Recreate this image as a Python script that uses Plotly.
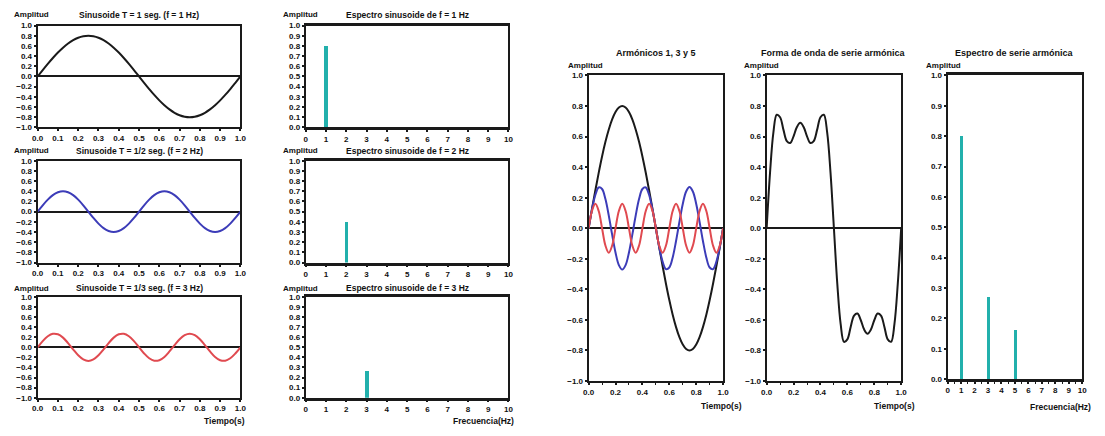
import plotly.graph_objects as go

W, H = 1105, 436

# Sample times (s) shared by every waveform
t = [0.0, 0.025, 0.05, 0.075, 0.1, 0.125, 0.15, 0.175, 0.2, 0.225,
     0.25, 0.275, 0.3, 0.325, 0.35, 0.375, 0.4, 0.425, 0.45, 0.475,
     0.5, 0.525, 0.55, 0.575, 0.6, 0.625, 0.65, 0.675, 0.7, 0.725,
     0.75, 0.775, 0.8, 0.825, 0.85, 0.875, 0.9, 0.925, 0.95, 0.975, 1.0]

# Sinusoid f = 1 Hz (amplitude 0.8)
wave_1hz = [0, 0.125, 0.247, 0.363, 0.470, 0.566, 0.647, 0.713, 0.761, 0.790,
            0.800, 0.790, 0.761, 0.713, 0.647, 0.566, 0.470, 0.363, 0.247, 0.125,
            0, -0.125, -0.247, -0.363, -0.470, -0.566, -0.647, -0.713, -0.761, -0.790,
            -0.800, -0.790, -0.761, -0.713, -0.647, -0.566, -0.470, -0.363, -0.247, -0.125, 0]

# Sinusoid f = 2 Hz (amplitude 0.4)
wave_2hz = [0, 0.124, 0.235, 0.324, 0.380, 0.400, 0.380, 0.324, 0.235, 0.124,
            0, -0.124, -0.235, -0.324, -0.380, -0.400, -0.380, -0.324, -0.235, -0.124,
            0, 0.124, 0.235, 0.324, 0.380, 0.400, 0.380, 0.324, 0.235, 0.124,
            0, -0.124, -0.235, -0.324, -0.380, -0.400, -0.380, -0.324, -0.235, -0.124, 0]

# Sinusoid f = 3 Hz (amplitude 0.27)
wave_3hz = [0, 0.123, 0.218, 0.267, 0.257, 0.191, 0.083, -0.042, -0.159, -0.241,
            -0.270, -0.241, -0.159, -0.042, 0.083, 0.191, 0.257, 0.267, 0.218, 0.123,
            0, -0.123, -0.218, -0.267, -0.257, -0.191, -0.083, 0.042, 0.159, 0.241,
            0.270, 0.241, 0.159, 0.042, -0.083, -0.191, -0.257, -0.267, -0.218, -0.123, 0]

# Sinusoid f = 5 Hz (amplitude 0.16)
wave_5hz = [0, 0.113, 0.16, 0.113, 0, -0.113, -0.16, -0.113,
            0, 0.113, 0.16, 0.113, 0, -0.113, -0.16, -0.113,
            0, 0.113, 0.16, 0.113, 0, -0.113, -0.16, -0.113,
            0, 0.113, 0.16, 0.113, 0, -0.113, -0.16, -0.113,
            0, 0.113, 0.16, 0.113, 0, -0.113, -0.16, -0.113, 0]

# Harmonic series waveform (1 + 3 + 5)
wave_sum = [0, 0.361, 0.626, 0.743, 0.727, 0.644, 0.571, 0.558, 0.602, 0.663,
            0.690, 0.663, 0.602, 0.558, 0.571, 0.644, 0.727, 0.743, 0.626, 0.361,
            0, -0.361, -0.626, -0.743, -0.727, -0.644, -0.571, -0.558, -0.602, -0.663,
            -0.690, -0.663, -0.602, -0.558, -0.571, -0.644, -0.727, -0.743, -0.626, -0.361, 0]

# Spectra
single_freqs = [1, 2, 3]
single_amps = [0.8, 0.4, 0.27]
series_freqs = [1, 3, 5]
series_amps = [0.8, 0.27, 0.16]

left_titles = ["Sinusoide T = 1 seg. (f = 1 Hz)",
               "Sinusoide T = 1/2 seg. (f = 2 Hz)",
               "Sinusoide T = 1/3 seg. (f = 3 Hz)"]
spec_titles = ["Espectro sinusoide de f = 1 Hz",
               "Espectro sinusoide de f = 2 Hz",
               "Espectro sinusoide de f = 3 Hz"]
right_titles = ["Armónicos 1, 3 y 5", "Forma de onda de serie armónica",
                "Espectro de serie armónica"]

BLACK = "#1a1a1a"
BLUE = "#3c3cb8"
RED = "#e04a50"
TEAL = "#22b0ac"
FONT = "Liberation Sans"

# Panel boxes in pixels: (left, right, top, bottom)
left_boxes = [(32, 237, 22, 126), (32, 237, 160, 264), (32, 237, 299, 402)]
spec_boxes = [(303, 508, 22, 126), (303, 508, 160, 264), (303, 508, 299, 402)]
right_boxes = [(589, 725, 73, 385), (769, 905, 73, 385), (952, 1088, 73, 383)]

fig = go.Figure()
layout = {}
tickfont = dict(family=FONT, size=8, color="#111", weight="bold")


def axis_common():
    return dict(showline=True, linecolor=BLACK, linewidth=2, mirror=True,
                showgrid=False, ticks="outside", ticklen=2, tickwidth=1.5,
                tickcolor=BLACK, tickfont=tickfont, fixedrange=True)


def add_axes(idx, box, xr, xdtick, xfmt, yr, ydtick, yfmt, zeroline, minor_x=None):
    l, r, tp, bt = box
    xa = axis_common()
    xa.update(domain=[l / W, r / W], range=xr, dtick=xdtick, tick0=0,
              tickformat=xfmt, anchor=f"y{idx}", zeroline=False)
    if minor_x:
        xa["minor"] = dict(dtick=minor_x, ticks="outside", ticklen=2,
                           tickcolor=BLACK, tickwidth=1)
    ya = axis_common()
    ya.update(domain=[1 - bt / H, 1 - tp / H], range=yr, dtick=ydtick, tick0=0,
              tickformat=yfmt, anchor=f"x{idx}", zeroline=zeroline,
              zerolinecolor=BLACK, zerolinewidth=1.6)
    key = "" if idx == 1 else str(idx)
    layout[f"xaxis{key}"] = xa
    layout[f"yaxis{key}"] = ya


def line(idx, y, color):
    key = "" if idx == 1 else str(idx)
    fig.add_trace(go.Scatter(x=t, y=y, mode="lines", line=dict(color=color, width=2, shape="spline"),
                             xaxis=f"x{key}", yaxis=f"y{key}", showlegend=False, hoverinfo="skip"))


def bars(idx, xs, ys, width):
    key = "" if idx == 1 else str(idx)
    fig.add_trace(go.Bar(x=xs, y=ys, width=width, marker=dict(color=TEAL, line=dict(width=0)),
                         xaxis=f"x{key}", yaxis=f"y{key}", showlegend=False, hoverinfo="skip"))


# Left column: individual sinusoids
left_waves = [(wave_1hz, BLACK), (wave_2hz, BLUE), (wave_3hz, RED)]
for i, (box, (wave, col)) in enumerate(zip(left_boxes, left_waves)):
    idx = i + 1
    add_axes(idx, box, [0, 1], 0.1, ".1f", [-1, 1], 0.2, ".1f", True)
    line(idx, wave, col)

# Middle column: single-line spectra
for i, box in enumerate(spec_boxes):
    idx = i + 4
    add_axes(idx, box, [0, 10], 1, "d", [0, 1], 0.1, ".1f", False)
    bars(idx, [single_freqs[i]], [single_amps[i]], 0.18)

# Right group: harmonics, series waveform, series spectrum
add_axes(7, right_boxes[0], [0, 1], 0.2, ".1f", [-1, 1], 0.2, ".1f", True, minor_x=0.1)
line(7, wave_1hz, BLACK)
line(7, wave_3hz, BLUE)
line(7, wave_5hz, RED)

add_axes(8, right_boxes[1], [0, 1], 0.2, ".1f", [-1, 1], 0.2, ".1f", True, minor_x=0.1)
line(8, wave_sum, BLACK)

add_axes(9, right_boxes[2], [0, 10], 1, "d", [0, 1], 0.1, ".1f", False, minor_x=0.5)
bars(9, series_freqs, series_amps, 0.24)

# Spectrum baselines drawn heavier
for key in ["xaxis4", "xaxis5", "xaxis6", "xaxis9"]:
    layout[key]["linewidth"] = 2.5

annotations = []


def text(x, y, s, anchor="center", size=8.5):
    annotations.append(dict(x=x / W, y=1 - y / H, xref="paper", yref="paper", text=s,
                            showarrow=False, xanchor=anchor, yanchor="middle",
                            font=dict(family=FONT, size=size, color="#111", weight="bold")))


row_title_y = [11, 150, 290]
for i in range(3):
    text(6, row_title_y[i], "Amplitud", "left", 8)
    text((left_boxes[i][0] + left_boxes[i][1]) / 2, row_title_y[i], left_titles[i])
    text(278, row_title_y[i], "Amplitud", "left", 8)
    text((spec_boxes[i][0] + spec_boxes[i][1]) / 2, row_title_y[i], spec_titles[i])

text(244, 426, "Tiempo(s)", "right")
text(516, 426, "Frecuencia(Hz)", "right")

for box, title, amp_x in zip(right_boxes, right_titles, [566, 744, 928]):
    text((box[0] + box[1]) / 2, 50, title, size=9)
    text(amp_x, 63, "Amplitud", "left", 8)

text(746, 410, "Tiempo(s)", "right")
text(921, 410, "Tiempo(s)", "right")
text(1099, 412, "Frecuencia(Hz)", "right")

fig.update_layout(width=W, height=H, margin=dict(l=0, r=0, t=0, b=0),
                  paper_bgcolor="white", plot_bgcolor="white",
                  bargap=0, annotations=annotations, **layout)

fig.write_html("out.html", config={"displayModeBar": False})
